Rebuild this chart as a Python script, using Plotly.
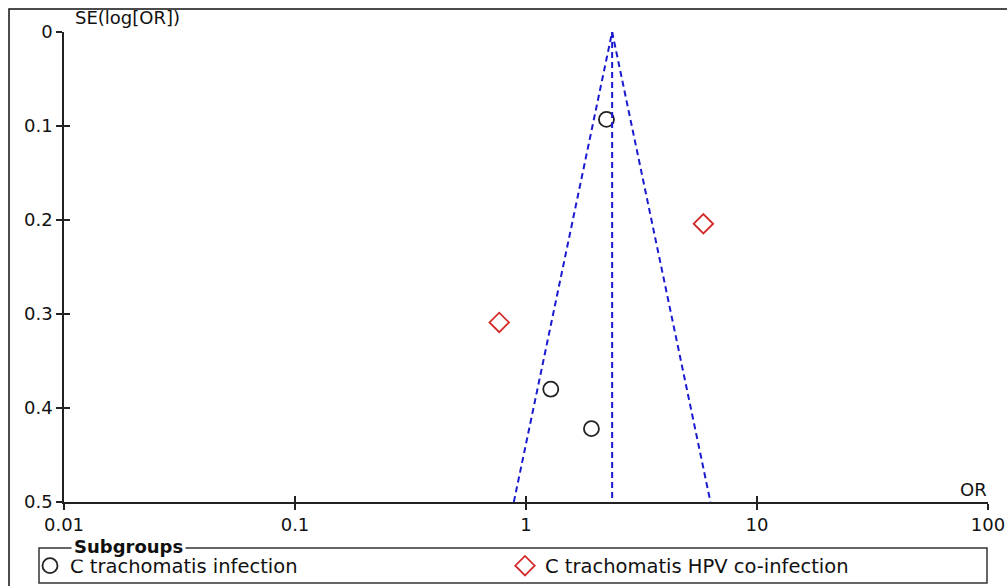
import numpy as np
import plotly.graph_objects as go

# ---- data ----
ct_or = [2.23, 1.28, 1.92]          # C trachomatis infection
ct_se = [0.093, 0.380, 0.422]
hpv_or = [5.86, 0.766]              # C trachomatis HPV co-infection
hpv_se = [0.204, 0.309]
pooled_or = 2.36
se_max = 0.5
x_ticks = [0.01, 0.1, 1, 10, 100]
x_tick_text = ["0.01", "0.1", "1", "10", "100"]
y_ticks = [0, 0.1, 0.2, 0.3, 0.4, 0.5]

FONT = "DejaVu Sans"
W, H = 1007, 586
L, R, T, B = 64, 19, 32, 84
pw, ph = W - L - R, H - T - B


def px_x(p):
    return (p - L) / pw


def px_y(p):
    return (H - B - p) / ph


lo = float(np.exp(np.log(pooled_or) - 1.96 * se_max))
hi = float(np.exp(np.log(pooled_or) + 1.96 * se_max))

fig = go.Figure()
dash_line = dict(color="#1a1ad0", width=2, dash="6px,4px")
fig.add_trace(go.Scatter(x=[lo, pooled_or, hi], y=[se_max, 0, se_max], mode="lines",
                         line=dash_line, showlegend=False, hoverinfo="skip"))
fig.add_trace(go.Scatter(x=[pooled_or, pooled_or], y=[0, se_max], mode="lines",
                         line=dash_line, showlegend=False, hoverinfo="skip",
                         xaxis="x2", yaxis="y2"))
fig.add_trace(go.Scatter(x=ct_or, y=ct_se, mode="markers", name="C trachomatis infection",
                         marker=dict(symbol="circle-open", size=15, color="#222222",
                                     line=dict(width=1.8, color="#222222"))))
fig.add_trace(go.Scatter(x=hpv_or, y=hpv_se, mode="markers", name="C trachomatis HPV co-infection",
                         marker=dict(symbol="diamond-open", size=15, color="#d42a2a",
                                     line=dict(width=1.8, color="#d42a2a"))))

axis_common = dict(showgrid=False, zeroline=False, linecolor="#222222", linewidth=1.6,
                   tickcolor="#222222", tickwidth=1.5, ticklen=6,
                   tickfont=dict(family=FONT, size=18, color="#111111"))
fig.update_layout(
    width=W, height=H,
    margin=dict(l=L, r=R, t=T, b=B, pad=0, autoexpand=False),
    paper_bgcolor="white", plot_bgcolor="white",
    font=dict(family=FONT, size=18, color="#111111"),
    xaxis=dict(type="log", range=[-2, 2], tickvals=x_ticks, ticktext=x_tick_text,
               ticks="outside", showline=True, **axis_common),
    yaxis=dict(range=[0.5, 0], tickvals=y_ticks, ticks="outside", showline=True, **axis_common),
    xaxis2=dict(type="log", range=[-2, 2], tickvals=x_ticks, overlaying="x", anchor="y2",
                ticks="inside", showticklabels=False, showline=False, side="bottom",
                showgrid=False, zeroline=False, tickcolor="#222222", tickwidth=1.5, ticklen=6),
    yaxis2=dict(range=[0.5, 0], tickvals=y_ticks, overlaying="y", anchor="x2", side="left",
                ticks="inside", showticklabels=False, showline=False,
                showgrid=False, zeroline=False, tickcolor="#222222", tickwidth=1.5, ticklen=6),
    legend=dict(orientation="h", x=px_x(30), y=px_y(566), xanchor="left", yanchor="middle",
                font=dict(family=FONT, size=19.5, color="#111111"),
                entrywidth=430, entrywidthmode="pixels", bgcolor="rgba(0,0,0,0)",
                borderwidth=0, itemsizing="trace"),
    showlegend=True,
)

# outer frame (top and left edges visible)
fig.add_shape(type="rect", xref="paper", yref="paper",
              x0=px_x(9), x1=px_x(1012), y0=px_y(592), y1=px_y(9),
              line=dict(color="#111111", width=1.5), layer="below")
# legend box
fig.add_shape(type="rect", xref="paper", yref="paper",
              x0=px_x(39), x1=px_x(987), y0=px_y(583), y1=px_y(548),
              line=dict(color="#333333", width=1.5), layer="below")

fig.add_annotation(text="SE(log[OR])", xref="paper", yref="paper", x=px_x(73), y=px_y(17),
                   xanchor="left", yanchor="middle", showarrow=False,
                   font=dict(family=FONT, size=18, color="#111111"))
fig.add_annotation(text="OR", xref="paper", yref="paper", x=px_x(989), y=px_y(489),
                   xanchor="right", yanchor="middle", showarrow=False,
                   font=dict(family=FONT, size=18, color="#111111"))
fig.add_annotation(text="<b>Subgroups</b>", xref="paper", yref="paper", x=px_x(71), y=px_y(546),
                   xanchor="left", yanchor="middle", showarrow=False, bgcolor="white",
                   borderpad=2,
                   font=dict(family=FONT, size=18, color="#111111"))

fig.write_html("out.html", config={"displayModeBar": False},
               post_script="document.body.style.margin='0px';")
